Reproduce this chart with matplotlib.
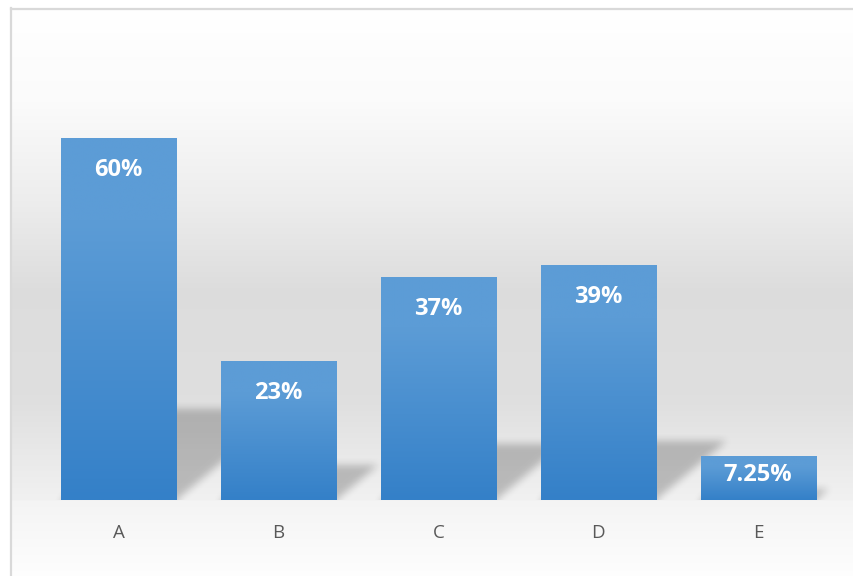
import matplotlib.pyplot as plt
import numpy as np
from matplotlib.lines import Line2D
from matplotlib.transforms import ScaledTranslation

categories = ['A', 'B', 'C', 'D', 'E']
values = [60, 23, 37, 39, 7.25]
labels = ['60%', '23%', '37%', '39%', '7.25%']

W, H, DPI = 854, 576, 100
fig = plt.figure(figsize=(W / DPI, H / DPI), dpi=DPI)

# chart area background: soft vertical grey gradient inside the border
rows = np.arange(H + 4)
stops_y = [8, 100, 200, 290, 400, 470, 499, 501, 576]
stops_v = [1.0, 0.985, 0.93, 0.865, 0.875, 0.925, 0.945, 0.958, 0.995]
shade = np.interp(rows, stops_y, stops_v)
bg = np.ones((H + 4, W + 4, 3))
bg[:, :, :] = shade[:, None, None]
bg[:8, :, :] = 1.0
bg[:, :11, :] = 1.0
ax_bg = fig.add_axes([0, 0, 1, 1], zorder=0)
ax_bg.imshow(bg, extent=(0, W + 4, H + 4, 0), aspect='auto', interpolation='nearest')
ax_bg.set_xlim(0, W)
ax_bg.set_ylim(H, 0)
ax_bg.axis('off')

border = '#d9d9d9'
ax_bg.add_line(Line2D([11.5, 11.5], [8, H + 4], color=border, lw=1.6))
ax_bg.add_line(Line2D([11, W + 4], [8.5, 8.5], color=border, lw=1.6))

ax_w, ax_h = 799.5, 452.5
ax = fig.add_axes([38.6 / W, 76 / H, ax_w / W, ax_h / H], zorder=1)
ax.patch.set_alpha(0)
x0, x1, y0, y1 = -0.5, 4.5, 0, 75
for s in ax.spines.values():
    s.set_visible(False)
ax.set_xticks([])
ax.set_yticks([])

px = ax_w / (x1 - x0)   # pixels per category
py = ax_h / (y1 - y0)   # pixels per percent
bw = 0.72

# perspective shadows cast up and to the right of each bar
nx, ny, pad = int(ax_w), int(ax_h), 20
gx = np.linspace(x0, x1, nx)
gy = np.linspace(y0, y1, ny)
gy_full = np.concatenate([np.zeros(pad), gy])
XX, YY = np.meshgrid(gx, gy_full)
mask = np.zeros_like(XX)
for i, v in enumerate(values):
    hs = 0.25 * v
    shift = YY * 1.2 * py / px
    inside = (YY <= hs) & (XX >= i - bw / 2 + shift) & (XX <= i + bw / 2 + shift)
    mask[inside] = 1.0


def box_blur(a, k):
    ker = np.ones(k) / k
    a = np.apply_along_axis(lambda r: np.convolve(r, ker, mode='same'), 1, a)
    a = np.apply_along_axis(lambda c: np.convolve(c, ker, mode='same'), 0, a)
    return a


soft = box_blur(box_blur(mask, 9), 9)[pad:]
shadow = np.zeros((ny, nx, 4))
shadow[:, :, 3] = 0.22 * soft
ax.imshow(shadow, extent=(x0, x1, y0, y1), origin='lower', aspect='auto',
          interpolation='bilinear', zorder=1)

# bars with a vertical blue gradient
top_c = np.array([92, 156, 214]) / 255
bot_c = np.array([52, 128, 200]) / 255
t = np.clip(np.linspace(0, 1, 256) * 1.3, 0, 1)
grad = (bot_c[None, :] + (top_c - bot_c)[None, :] * t[:, None]).reshape(256, 1, 3)

bars = ax.bar(range(len(values)), values, width=bw, color=top_c, zorder=2)
for i, (rect, v) in enumerate(zip(bars, values)):
    im = ax.imshow(grad, extent=(i - bw / 2, i + bw / 2, 0, v), origin='lower',
                   aspect='auto', interpolation='bilinear', zorder=3)
    im.set_clip_path(rect)
    off_px = min(38, 0.57 * v * py)
    ax.annotate(labels[i], (i, v), xytext=(0, -off_px * 72 / DPI),
                textcoords='offset points', ha='center', va='baseline',
                color='white', fontsize=17, fontweight='bold',
                family='Open Sans', zorder=4)

ax.set_xlim(x0, x1)
ax.set_ylim(y0, y1)

cat_tr = ax.get_xaxis_transform() + ScaledTranslation(0, -37.5 / DPI, fig.dpi_scale_trans)
for i, c in enumerate(categories):
    ax.text(i, 0, c, transform=cat_tr, ha='center', va='baseline',
            color='#595959', fontsize=13.5, family='Open Sans')

fig.savefig('out.png', dpi=DPI)
